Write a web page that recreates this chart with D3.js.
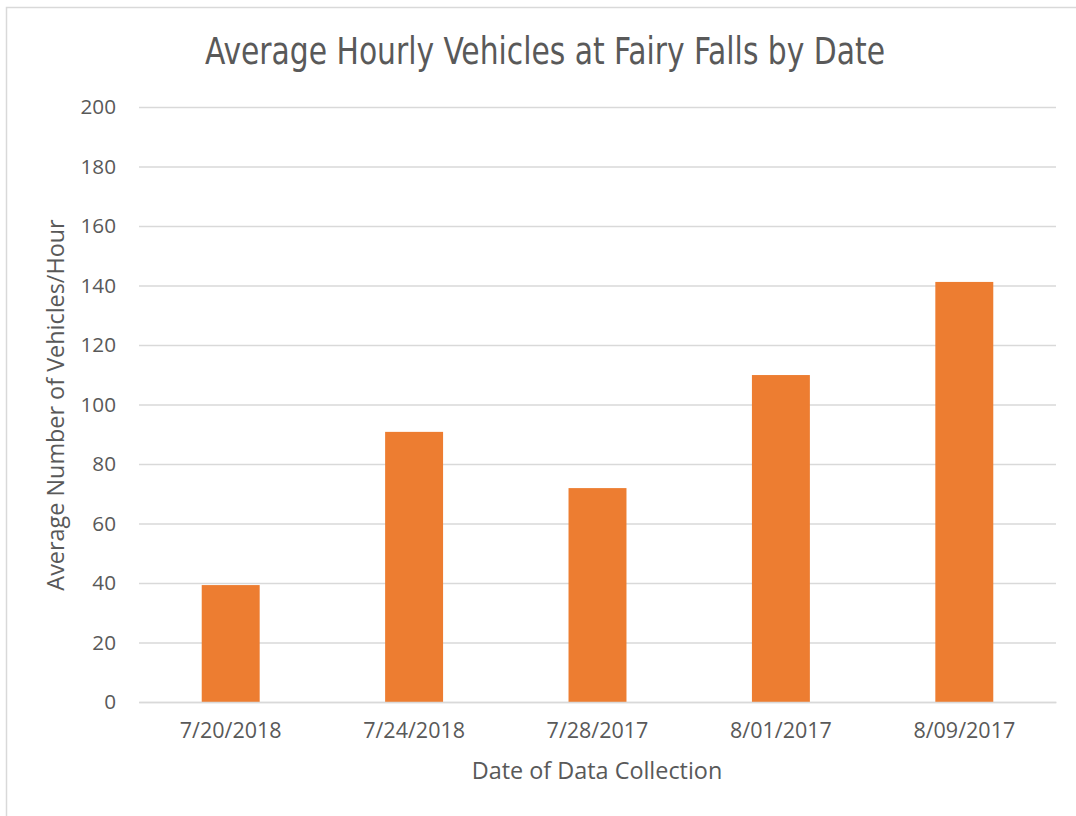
<!DOCTYPE html>
<html><head><meta charset="utf-8">
<script src="https://cdn.jsdelivr.net/npm/d3@7"></script>
<style>body{margin:0;background:#fff}</style>
</head><body>
<svg id="c" width="1076" height="816"></svg>
<script>
const categories = ["7/20/2018","7/24/2018","7/28/2017","8/01/2017","8/09/2017"];
const values = [39.3, 90.8, 71.9, 109.9, 141.2];
const yTicks = [0,20,40,60,80,100,120,140,160,180,200];
const title = "Average Hourly Vehicles at Fairy Falls by Date";
const xTitle = "Date of Data Collection";
const yTitle = "Average Number of Vehicles/Hour";

const svg = d3.select("#c");
const m = {l:139, r:1056, t:107, b:702};
const textCol = "#595959";
const font = "'Open Sans', 'Noto Sans', sans-serif";

svg.append("rect").attr("x",6.5).attr("y",7.5).attr("width",1080).attr("height",820)
  .attr("fill","#fff").attr("stroke","#d9d9d9").attr("stroke-width",1.5);

const x = d3.scaleBand().domain(categories).range([m.l,m.r]).paddingInner(0.684).paddingOuter(0.342);
const y = d3.scaleLinear().domain([0,200]).range([m.b,m.t]);

const yAxis = d3.axisLeft(y).tickValues(yTicks).tickSize(-(m.r-m.l)).tickPadding(23);
const gy = svg.append("g").attr("transform",`translate(${m.l},0)`).call(yAxis);
gy.select(".domain").remove();
gy.selectAll(".tick line").attr("stroke","#d9d9d9").attr("stroke-width",1.5);
gy.selectAll(".tick text").attr("fill",textCol).style("font-family",font).style("font-size","20.7px");

svg.append("g").selectAll("rect").data(values).join("rect")
  .attr("x",(d,i)=>x(categories[i])).attr("width",x.bandwidth())
  .attr("y",d=>y(d)).attr("height",d=>y(0)-y(d)).attr("fill","#ED7D31");

const xAxis = d3.axisBottom(x).tickSize(0).tickPadding(21);
const gx = svg.append("g").attr("transform",`translate(0,${m.b})`).call(xAxis);
gx.select(".domain").attr("stroke","#d9d9d9").attr("stroke-width",1.5);
gx.selectAll(".tick text").attr("fill",textCol).style("font-family",font).style("font-size","21.5px");

svg.append("text").attr("x",545).attr("y",64).attr("text-anchor","middle")
  .attr("fill",textCol).style("font-family","'Liberation Sans Narrow','DejaVu Sans Condensed',sans-serif")
  .style("font-size","37px").attr("textLength",680).attr("lengthAdjust","spacingAndGlyphs").text(title);

svg.append("text").attr("x",597).attr("y",779).attr("text-anchor","middle")
  .attr("fill",textCol).style("font-family",font).style("font-size","23.4px").text(xTitle);

svg.append("text").attr("transform","translate(64,405) rotate(-90)").attr("text-anchor","middle")
  .attr("fill",textCol).style("font-family",font).style("font-size","23.4px").text(yTitle);
</script>
</body></html>
